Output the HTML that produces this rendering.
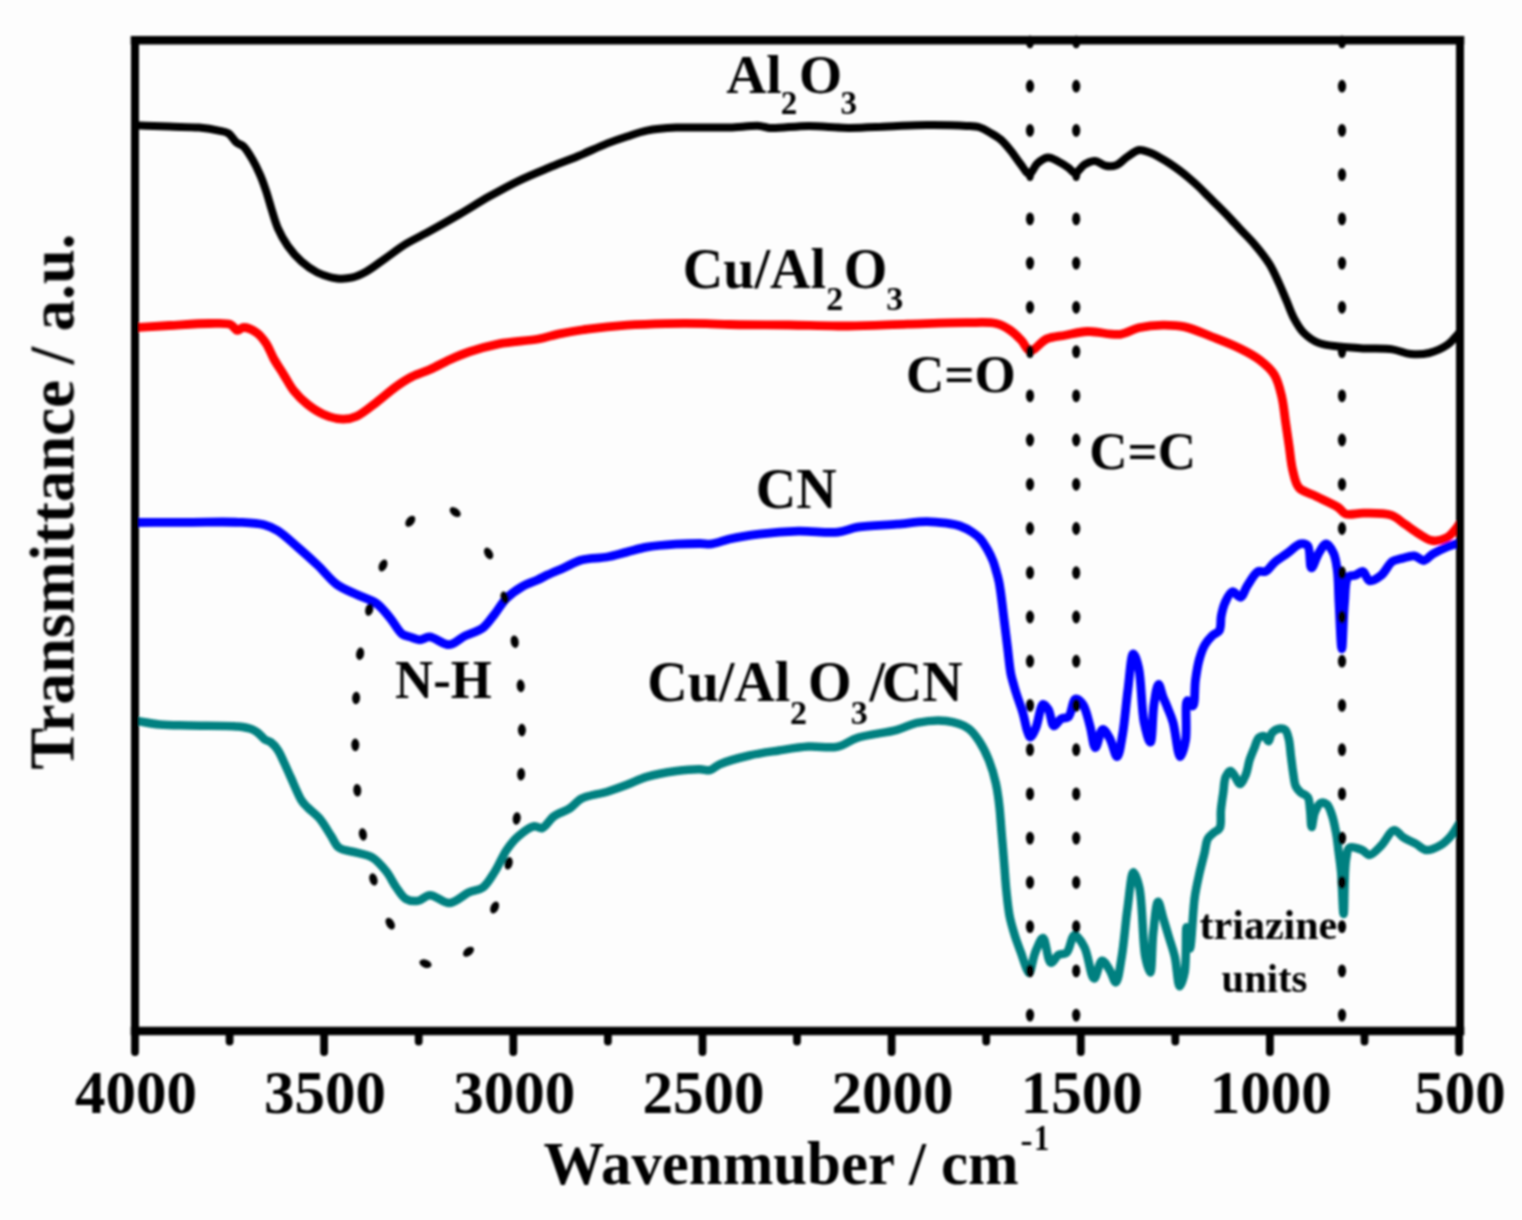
<!DOCTYPE html>
<html><head><meta charset="utf-8"><title>FTIR spectra</title>
<style>
html,body{margin:0;padding:0;background:#fdfdfd;overflow:hidden;}
svg{display:block;}
text{font-family:"Liberation Serif","Times New Roman",serif;font-weight:bold;fill:#000;}
</style></head><body>
<svg width="1522" height="1220" viewBox="0 0 1522 1220">
<defs><filter id="soft" filterUnits="userSpaceOnUse" x="0" y="0" width="1522" height="1220"><feGaussianBlur stdDeviation="1"/></filter></defs>
<rect width="1522" height="1220" fill="#fdfdfd"/>
<g filter="url(#soft)">

<path fill="none" stroke="#000" stroke-width="8" stroke-linejoin="round" stroke-linecap="butt" d="M135.0,125.2 C146.5,125.7 158.4,126.2 169.4,126.6 C179.6,127.0 190.2,126.8 199.0,127.6 C206.3,128.3 213.3,129.4 218.7,130.6 C222.6,131.5 225.7,131.7 228.6,133.5 C231.7,135.5 233.7,140.2 236.4,142.4 C238.6,144.2 241.1,144.3 243.3,146.3 C246.4,149.1 249.5,154.5 252.2,159.1 C255.1,164.0 257.8,169.6 260.1,174.9 C262.4,180.1 264.1,185.1 266.0,190.7 C268.1,196.9 269.9,204.0 271.9,210.4 C273.8,216.5 275.3,222.3 277.8,228.1 C280.5,234.2 283.8,240.3 287.7,245.9 C291.7,251.5 296.4,257.1 301.5,261.6 C306.3,265.9 311.5,269.7 317.3,272.5 C323.3,275.4 330.7,277.7 337.0,278.4 C342.5,279.0 347.7,278.6 352.7,277.4 C357.6,276.2 361.6,274.2 366.5,271.5 C372.7,268.1 379.7,262.3 386.3,257.7 C392.9,253.1 399.0,248.2 406.0,243.9 C413.5,239.3 421.6,235.7 430.0,231.1 C439.4,225.9 449.8,220.0 459.6,214.3 C469.5,208.5 479.2,202.2 489.1,196.6 C498.9,191.1 508.7,185.6 518.7,180.8 C528.5,176.1 538.4,172.1 548.3,168.0 C558.1,163.9 568.0,160.3 577.8,156.2 C587.7,152.1 598.5,146.9 607.4,143.4 C614.6,140.6 620.5,138.6 627.1,136.5 C633.6,134.4 639.5,132.1 646.8,130.6 C655.6,128.9 666.5,128.1 676.4,127.6 C686.3,127.1 696.7,127.6 706.0,127.6 C714.4,127.6 721.6,127.7 730.0,127.5 C739.4,127.2 752.4,125.4 759.6,125.9 C763.8,126.2 765.0,127.6 769.4,127.9 C778.1,128.6 795.7,125.9 808.8,125.9 C822.0,125.9 835.1,127.8 848.3,127.9 C861.4,128.0 874.6,127.0 887.7,126.5 C900.8,126.0 914.0,125.0 927.1,124.9 C940.2,124.8 956.8,125.2 966.5,125.9 C972.2,126.3 975.9,126.3 980.0,127.5 C983.7,128.6 986.7,130.7 990.0,132.6 C993.5,134.6 997.2,136.6 1000.5,139.4 C1004.2,142.6 1007.7,146.9 1011.0,151.0 C1014.4,155.1 1017.3,160.0 1020.5,164.0 C1023.4,167.6 1026.6,174.1 1029.4,174.0 C1032.2,173.9 1034.1,166.3 1037.3,163.5 C1040.3,160.8 1044.2,157.8 1047.8,157.5 C1051.2,157.2 1054.9,159.8 1058.3,161.5 C1061.9,163.3 1065.8,165.9 1068.8,168.0 C1071.2,169.7 1072.9,173.1 1075.2,173.0 C1078.1,172.9 1081.2,166.5 1084.6,164.5 C1087.8,162.6 1091.6,160.8 1095.1,161.0 C1098.6,161.2 1102.0,165.0 1105.6,165.7 C1109.0,166.4 1112.9,166.4 1116.2,165.2 C1119.9,163.9 1123.0,159.8 1126.7,157.3 C1130.6,154.7 1135.2,150.6 1139.3,150.0 C1142.9,149.5 1146.4,151.4 1149.8,152.6 C1153.2,153.9 1156.4,155.7 1159.7,157.5 C1163.0,159.3 1166.3,161.3 1169.5,163.4 C1172.8,165.6 1176.1,167.9 1179.3,170.3 C1182.6,172.8 1185.9,175.4 1189.2,178.2 C1192.5,181.0 1195.8,183.9 1199.0,187.0 C1202.3,190.2 1205.6,193.6 1208.9,196.9 C1212.2,200.2 1215.4,203.4 1218.7,206.7 C1222.0,210.0 1225.1,213.1 1228.5,216.6 C1232.2,220.5 1235.9,224.6 1240.0,229.0 C1244.6,233.9 1249.9,239.0 1254.7,244.6 C1259.8,250.6 1265.3,257.5 1269.5,264.2 C1273.4,270.6 1276.3,277.5 1279.3,283.9 C1282.0,289.8 1284.2,295.4 1286.7,301.1 C1289.1,306.8 1291.1,312.9 1294.0,318.3 C1296.8,323.5 1299.8,328.9 1303.9,333.0 C1308.0,337.1 1313.1,340.7 1318.6,342.9 C1324.5,345.3 1331.2,345.6 1338.3,346.5 C1346.5,347.5 1355.9,347.9 1364.8,348.4 C1373.9,348.9 1384.2,348.2 1392.4,349.4 C1399.2,350.4 1404.6,353.4 1410.8,354.0 C1416.9,354.6 1423.1,354.4 1429.1,353.0 C1435.4,351.5 1442.7,348.1 1447.5,344.8 C1451.4,342.1 1454.5,338.1 1456.7,335.6 C1458.1,334.0 1458.9,332.9 1460.0,331.5"/>
<path fill="none" stroke="#ff0000" stroke-width="8.8" stroke-linejoin="round" stroke-linecap="butt" d="M135.0,327.6 C146.5,326.9 157.5,326.2 169.4,325.5 C182.1,324.8 197.7,323.5 208.9,323.5 C217.2,323.5 225.5,322.5 230.5,324.5 C233.7,325.8 235.1,330.1 237.4,330.4 C239.4,330.6 240.9,327.6 243.3,327.5 C246.7,327.3 252.5,329.8 256.2,332.4 C260.1,335.0 263.1,339.0 266.0,343.2 C269.1,347.8 271.0,353.8 273.9,359.0 C276.9,364.3 280.5,369.5 283.8,374.8 C287.1,380.0 289.7,385.6 293.6,390.5 C297.6,395.5 302.4,400.3 307.4,404.3 C312.3,408.2 317.4,411.7 323.2,414.2 C329.2,416.8 336.9,419.0 342.9,419.1 C347.9,419.2 351.9,418.3 356.7,416.2 C363.0,413.5 369.9,407.3 376.4,402.4 C383.0,397.4 389.8,391.1 396.1,386.6 C401.5,382.7 406.3,379.5 411.9,376.7 C417.6,373.8 423.9,372.2 430.0,369.5 C436.5,366.6 443.1,362.7 449.7,359.7 C456.2,356.8 462.1,354.2 469.4,351.8 C478.2,348.9 488.4,346.0 499.0,343.9 C511.1,341.5 527.6,341.0 538.4,339.0 C546.1,337.6 550.8,335.6 558.1,334.1 C566.9,332.3 577.1,330.5 587.7,329.1 C599.9,327.5 614.0,326.1 627.1,325.2 C640.2,324.3 653.4,323.9 666.5,323.6 C679.7,323.3 694.5,323.4 706.0,323.6 C715.0,323.8 720.2,324.3 730.0,324.5 C745.3,324.9 769.4,324.8 789.1,325.0 C808.8,325.3 828.6,326.2 848.3,326.0 C868.0,325.8 887.7,324.7 907.4,324.1 C927.1,323.6 950.2,322.7 966.5,322.7 C978.1,322.7 988.2,321.6 996.1,323.5 C1001.7,324.8 1005.7,327.2 1009.9,330.0 C1014.2,332.8 1018.0,336.9 1021.5,340.5 C1024.7,343.8 1026.6,350.4 1030.2,350.8 C1034.6,351.4 1040.8,341.5 1046.8,338.9 C1052.5,336.4 1058.8,336.4 1065.2,335.2 C1072.2,333.9 1079.2,331.8 1087.3,331.5 C1097.2,331.1 1111.1,335.5 1120.4,334.3 C1127.5,333.4 1132.2,329.3 1138.8,327.8 C1146.2,326.1 1154.9,325.2 1162.7,325.1 C1170.2,325.0 1177.1,325.2 1184.8,326.9 C1193.6,328.8 1203.2,333.4 1212.4,337.0 C1221.6,340.6 1231.7,344.4 1240.0,348.5 C1247.3,352.1 1253.9,355.5 1259.7,360.0 C1265.3,364.3 1270.7,368.9 1274.4,374.8 C1278.3,381.1 1280.0,389.3 1281.8,396.9 C1283.7,404.8 1284.3,413.3 1285.5,421.5 C1286.7,429.7 1287.9,437.8 1289.1,446.0 C1290.3,454.2 1290.9,463.2 1292.8,470.6 C1294.4,476.9 1295.3,483.7 1299.0,487.8 C1302.5,491.7 1308.2,492.4 1313.7,495.2 C1320.8,498.8 1332.7,503.7 1338.3,507.5 C1341.6,509.7 1342.3,512.7 1345.5,513.8 C1349.9,515.4 1356.9,513.0 1363.5,513.1 C1371.7,513.3 1383.7,512.7 1391.1,515.2 C1396.8,517.1 1400.3,521.1 1404.9,524.2 C1409.5,527.3 1414.0,531.0 1418.7,533.8 C1423.2,536.5 1427.8,540.1 1432.5,540.7 C1437.0,541.3 1442.2,540.2 1446.3,538.0 C1450.6,535.7 1455.0,529.9 1457.3,526.9 C1458.6,525.2 1459.1,524.0 1460.0,522.5"/>
<path fill="none" stroke="#0000ff" stroke-width="8.8" stroke-linejoin="round" stroke-linecap="butt" d="M135.0,522.5 C153.0,522.4 171.5,522.3 189.1,522.3 C205.9,522.3 224.6,521.6 238.4,522.3 C248.3,522.8 256.9,523.0 264.0,524.8 C269.4,526.2 273.0,527.9 277.8,530.8 C284.1,534.7 291.1,541.6 297.6,547.2 C304.2,552.9 310.8,558.8 317.3,564.9 C324.0,571.2 330.0,579.5 337.0,584.6 C343.2,589.1 350.1,591.4 356.7,594.5 C363.2,597.6 370.8,599.3 376.4,603.3 C381.9,607.2 385.9,613.0 390.2,618.1 C394.4,623.2 398.0,630.9 402.0,633.9 C404.6,635.9 407.1,636.0 409.9,636.9 C413.0,637.9 416.4,639.8 419.7,639.8 C423.0,639.8 425.8,636.7 429.6,636.9 C435.1,637.2 443.2,645.1 449.3,644.7 C454.9,644.3 459.5,638.6 465.0,635.9 C470.7,633.1 477.8,631.7 482.8,628.0 C487.6,624.4 490.7,619.0 494.6,614.2 C498.6,609.2 501.8,603.0 506.4,598.4 C511.0,593.8 516.7,589.8 522.2,586.6 C527.3,583.6 533.4,581.9 538.0,579.7 C541.7,578.0 544.1,576.5 547.8,574.8 C552.4,572.6 558.2,570.3 563.6,567.9 C569.4,565.4 574.8,561.8 581.4,560.0 C589.0,557.9 599.1,558.4 607.0,557.0 C614.0,555.7 620.1,553.7 626.7,552.1 C633.3,550.5 639.1,548.5 646.4,547.2 C655.2,545.7 666.6,544.8 676.0,544.2 C684.4,543.7 693.4,543.5 700.0,543.5 C704.6,543.5 707.5,544.4 711.8,543.9 C717.2,543.3 722.9,540.5 729.6,539.0 C738.2,537.1 748.5,535.4 759.1,534.1 C771.3,532.6 785.4,531.4 798.6,531.1 C811.7,530.8 827.2,533.3 838.0,532.1 C845.8,531.2 849.9,528.5 857.7,527.2 C868.5,525.5 884.9,525.2 897.1,524.2 C907.7,523.3 917.8,521.6 926.7,521.6 C933.9,521.6 940.5,522.4 946.4,523.2 C951.4,523.9 955.7,524.5 960.0,526.0 C964.3,527.5 968.6,529.8 972.1,532.1 C975.1,534.1 977.6,535.8 980.0,538.5 C982.8,541.6 985.4,546.0 987.6,549.8 C989.7,553.5 991.5,557.2 993.0,561.0 C994.4,564.6 995.4,568.3 996.4,571.9 C997.4,575.3 998.3,578.5 999.0,582.0 C999.8,585.8 1000.2,589.2 1000.9,594.0 C1001.9,601.1 1003.1,611.7 1004.2,620.6 C1005.3,629.4 1006.4,638.3 1007.5,647.1 C1008.6,655.9 1009.5,666.8 1010.8,673.6 C1011.6,677.9 1012.6,680.6 1013.5,684.0 C1014.4,687.2 1015.1,689.8 1016.3,693.5 C1018.0,698.9 1021.1,706.9 1023.0,713.4 C1024.8,719.4 1025.8,726.8 1027.4,731.1 C1028.4,733.7 1029.3,737.0 1030.5,737.0 C1032.0,737.0 1034.2,731.6 1035.9,727.7 C1038.5,721.8 1040.2,705.0 1043.1,704.3 C1044.7,703.9 1046.9,707.2 1048.5,709.7 C1050.8,713.5 1051.3,725.3 1053.9,725.9 C1055.9,726.4 1058.6,720.2 1061.2,718.7 C1063.4,717.4 1066.3,718.7 1068.4,716.9 C1071.7,714.0 1072.5,699.8 1075.6,698.9 C1077.7,698.3 1080.7,701.4 1082.8,704.3 C1086.1,708.8 1087.9,718.7 1090.0,725.9 C1092.1,733.1 1093.2,747.5 1095.4,747.6 C1097.5,747.7 1099.8,729.9 1102.6,729.5 C1104.8,729.2 1107.6,734.8 1109.8,738.5 C1112.6,743.3 1115.0,756.7 1117.1,756.6 C1119.3,756.4 1120.9,743.5 1122.5,734.9 C1124.7,722.6 1126.0,704.0 1127.9,689.8 C1129.6,677.1 1130.9,654.1 1133.3,653.8 C1134.9,653.6 1137.2,661.7 1138.7,668.2 C1141.5,680.4 1141.3,708.8 1144.1,722.3 C1145.8,730.6 1148.8,742.3 1150.4,742.1 C1152.5,741.9 1152.3,714.9 1154.0,704.3 C1155.2,696.6 1156.8,684.5 1158.5,684.4 C1159.9,684.3 1161.5,693.1 1163.1,697.1 C1164.6,700.9 1166.1,704.0 1167.6,707.9 C1169.4,712.3 1171.3,716.4 1173.0,722.3 C1175.6,731.2 1177.7,756.5 1180.2,756.6 C1182.0,756.7 1184.4,747.0 1185.6,740.3 C1187.5,730.1 1184.4,701.9 1187.4,700.7 C1188.7,700.2 1191.5,706.5 1192.8,706.0 C1195.3,705.1 1194.3,688.1 1195.5,680.0 C1196.5,672.8 1197.5,665.9 1199.2,659.8 C1200.7,654.4 1202.3,649.3 1204.7,645.1 C1206.8,641.5 1209.5,638.4 1212.1,635.9 C1214.4,633.7 1217.8,633.1 1219.4,630.4 C1221.4,626.9 1220.3,620.4 1221.3,615.7 C1222.2,611.2 1223.2,606.8 1225.0,602.8 C1226.8,598.8 1229.5,592.3 1232.3,591.7 C1234.8,591.2 1238.2,597.8 1240.6,597.3 C1243.3,596.7 1244.4,590.1 1247.0,586.2 C1250.1,581.6 1254.3,573.4 1258.1,571.5 C1260.5,570.3 1263.0,572.5 1265.4,571.5 C1268.6,570.2 1271.1,565.2 1274.6,562.3 C1278.4,559.1 1283.2,556.2 1287.5,553.1 C1291.8,550.0 1296.6,544.6 1300.4,543.9 C1303.1,543.4 1305.9,543.8 1307.7,545.8 C1310.8,549.2 1309.3,567.5 1311.4,567.8 C1313.2,568.1 1316.1,557.3 1318.8,553.1 C1321.1,549.5 1323.7,543.9 1326.1,543.9 C1328.6,543.9 1331.7,549.3 1333.5,553.1 C1335.7,557.6 1336.3,563.2 1337.2,569.7 C1338.5,578.8 1338.3,590.9 1339.0,602.8 C1339.8,616.9 1340.9,648.8 1341.8,648.8 C1342.7,648.8 1343.2,615.9 1344.5,602.8 C1345.5,592.9 1344.8,580.7 1348.2,577.0 C1350.0,575.0 1353.2,576.1 1355.6,575.2 C1358.1,574.3 1360.7,571.0 1362.9,571.5 C1365.4,572.1 1366.5,579.9 1369.4,580.7 C1372.5,581.5 1377.7,578.0 1381.3,575.2 C1385.5,571.9 1388.4,564.1 1392.4,561.4 C1395.3,559.4 1398.3,559.5 1401.6,558.6 C1405.5,557.6 1410.6,555.4 1414.4,555.9 C1417.8,556.3 1420.6,560.7 1423.6,560.5 C1426.7,560.3 1429.3,556.1 1432.8,554.0 C1437.0,551.5 1442.9,548.6 1447.5,546.7 C1451.4,545.1 1456.3,543.9 1458.6,543.0 C1459.7,542.6 1460.2,542.3 1461.0,542.0"/>
<path fill="none" stroke="#008080" stroke-width="8.5" stroke-linejoin="round" stroke-linecap="butt" d="M135.0,720.6 C143.2,721.9 151.0,723.7 159.6,724.5 C169.0,725.4 178.0,725.2 189.1,725.5 C203.4,725.9 227.1,725.2 238.4,726.5 C244.5,727.2 248.7,728.0 252.2,729.4 C254.6,730.3 256.1,731.3 258.0,732.8 C260.2,734.5 262.3,737.6 264.6,739.3 C266.7,740.8 269.1,741.0 271.1,742.5 C273.5,744.3 275.7,746.8 277.7,749.8 C280.2,753.4 282.2,758.5 284.3,763.0 C286.5,767.7 288.3,772.0 290.8,777.4 C293.9,784.2 298.1,795.1 301.5,800.4 C303.5,803.6 305.0,804.8 307.4,807.3 C310.6,810.6 315.5,813.8 319.2,818.1 C323.5,823.1 327.6,830.6 331.1,835.9 C334.0,840.2 335.1,844.9 338.9,847.7 C343.3,850.9 351.0,850.9 356.7,852.6 C362.1,854.2 367.7,854.7 372.5,857.6 C377.7,860.7 382.3,866.4 386.3,871.4 C390.2,876.3 392.7,882.3 396.1,887.1 C399.3,891.5 402.1,896.8 406.0,899.0 C409.4,901.0 413.9,901.4 417.8,900.9 C421.9,900.3 425.3,895.3 429.9,895.2 C435.6,895.0 443.1,903.4 449.6,903.0 C456.3,902.6 463.2,894.9 469.3,892.2 C474.2,890.0 479.1,890.3 483.1,887.3 C487.8,883.8 491.2,877.3 494.9,871.5 C499.1,865.0 502.4,856.0 506.7,849.8 C510.4,844.5 514.0,839.9 518.6,836.0 C523.2,832.0 529.8,826.9 534.3,826.2 C537.3,825.7 539.5,828.9 542.2,828.1 C546.0,827.0 549.5,819.6 554.0,816.3 C558.6,812.9 565.1,811.5 569.8,808.4 C574.2,805.5 576.6,801.2 581.6,798.6 C588.2,795.2 599.3,794.2 607.3,791.7 C614.3,789.5 620.5,787.3 627.0,784.8 C633.6,782.3 639.4,779.1 646.7,776.9 C655.5,774.3 666.9,772.3 676.3,771.0 C684.6,769.9 693.8,769.2 700.0,769.3 C704.0,769.3 706.7,770.9 709.9,770.2 C713.3,769.4 715.4,766.2 719.7,764.3 C726.8,761.2 739.4,757.8 749.3,755.5 C759.1,753.2 768.9,752.0 778.8,750.5 C788.6,749.0 798.5,747.2 808.4,746.6 C818.2,746.0 829.3,748.5 838.0,746.6 C845.4,745.0 849.8,740.2 857.7,737.7 C868.4,734.3 886.3,732.8 897.1,729.8 C904.9,727.7 909.5,724.4 916.8,722.9 C925.6,721.1 937.4,719.8 946.4,721.0 C954.4,722.0 962.7,724.5 968.4,728.4 C973.4,731.8 976.5,737.0 979.8,742.1 C983.4,747.6 986.4,753.9 989.0,760.5 C991.8,767.6 994.2,775.8 995.9,783.5 C997.6,791.1 998.5,798.4 999.4,806.4 C1000.4,815.2 1000.9,824.8 1001.7,834.0 C1002.5,843.2 1003.3,852.3 1004.0,861.5 C1004.8,870.7 1005.3,879.9 1006.2,889.1 C1007.2,898.3 1008.0,908.1 1009.7,916.6 C1011.2,924.0 1013.4,930.9 1015.4,937.3 C1017.2,943.0 1019.3,948.0 1021.2,953.3 C1023.1,958.7 1025.2,966.0 1026.9,969.4 C1027.7,971.1 1028.4,973.1 1029.2,973.0 C1031.0,972.7 1032.6,958.9 1035.1,952.8 C1037.3,947.4 1040.6,937.9 1043.0,938.1 C1046.0,938.4 1047.4,961.9 1050.8,962.7 C1053.1,963.3 1055.8,956.4 1058.7,954.8 C1061.2,953.4 1064.3,954.7 1066.6,952.8 C1070.1,949.9 1071.3,935.5 1074.5,935.1 C1077.3,934.7 1081.5,941.7 1084.3,946.9 C1088.5,954.6 1090.7,978.2 1094.1,978.4 C1096.7,978.6 1099.0,961.1 1102.0,960.7 C1104.4,960.4 1107.6,966.9 1109.9,970.5 C1112.2,974.2 1114.1,982.6 1115.8,982.4 C1118.2,982.1 1120.0,966.8 1121.7,956.8 C1124.1,943.1 1125.4,922.6 1127.6,907.6 C1129.4,894.8 1131.0,872.4 1133.5,872.2 C1135.2,872.0 1137.8,880.7 1139.4,887.9 C1142.7,902.6 1142.4,942.1 1145.3,956.8 C1146.7,964.0 1149.0,972.6 1150.2,972.5 C1152.1,972.3 1151.8,945.5 1153.2,933.2 C1154.5,922.1 1156.1,901.8 1158.1,901.7 C1159.5,901.6 1161.3,911.9 1163.0,917.4 C1164.9,923.6 1166.9,930.5 1168.9,937.1 C1170.9,943.7 1173.1,949.5 1174.8,956.8 C1176.8,965.6 1177.7,986.1 1179.7,986.3 C1181.1,986.4 1183.4,978.5 1184.6,972.5 C1186.7,961.9 1185.4,927.4 1186.6,927.3 C1187.4,927.3 1188.7,948.4 1189.8,948.4 C1191.5,948.4 1192.7,910.8 1194.8,896.8 C1196.2,887.1 1198.0,879.9 1199.7,872.2 C1201.3,865.2 1203.2,858.5 1204.6,852.5 C1205.8,847.5 1205.9,842.2 1207.8,838.7 C1209.3,836.0 1211.8,834.5 1213.8,832.7 C1215.7,831.0 1218.4,830.5 1219.7,828.0 C1221.7,824.2 1220.3,816.0 1220.9,810.1 C1221.5,804.1 1222.5,798.0 1223.3,792.3 C1224.1,787.0 1224.0,780.6 1225.7,776.8 C1226.9,774.2 1228.8,770.9 1230.4,770.9 C1232.0,770.9 1233.7,774.7 1235.2,776.8 C1236.8,779.0 1238.2,784.0 1239.9,784.0 C1241.8,784.0 1244.3,778.1 1245.9,774.5 C1247.7,770.3 1248.1,764.7 1249.5,760.2 C1250.9,756.0 1252.6,752.1 1254.2,748.3 C1255.8,744.6 1256.7,739.4 1259.0,737.6 C1260.6,736.3 1263.3,735.8 1264.9,736.4 C1266.5,737.0 1267.4,741.3 1268.5,741.2 C1269.8,741.0 1270.1,734.9 1272.0,732.8 C1273.8,730.8 1276.8,729.0 1279.2,728.6 C1281.2,728.3 1283.6,728.5 1285.1,729.8 C1287.0,731.4 1287.8,735.2 1288.7,738.8 C1290.0,743.7 1290.2,750.7 1291.0,756.6 C1291.8,762.6 1292.5,769.2 1293.4,774.5 C1294.1,778.9 1294.3,783.2 1295.8,786.3 C1297.0,788.8 1298.7,790.5 1300.6,792.3 C1302.6,794.1 1306.1,794.6 1307.7,797.0 C1309.7,800.0 1309.5,805.4 1310.1,810.1 C1310.8,815.4 1310.8,826.9 1311.6,827.0 C1312.4,827.1 1313.1,816.7 1314.8,812.5 C1316.3,808.9 1318.4,804.0 1320.8,803.0 C1322.6,802.3 1325.1,802.9 1326.7,804.2 C1328.9,805.9 1330.1,809.8 1331.5,813.7 C1333.5,819.1 1335.1,827.3 1336.3,833.9 C1337.4,840.0 1337.8,845.6 1338.6,851.7 C1339.4,858.3 1340.4,864.1 1341.1,872.2 C1342.1,883.7 1342.8,914.0 1343.6,914.0 C1344.5,914.0 1344.0,871.5 1346.0,859.9 C1347.0,854.3 1347.0,849.2 1349.7,847.6 C1352.4,846.0 1358.5,848.6 1362.0,850.0 C1364.9,851.2 1366.7,855.1 1369.4,855.0 C1373.0,854.8 1377.8,849.0 1381.7,845.1 C1386.0,840.8 1389.9,830.8 1394.0,830.3 C1397.3,829.9 1400.2,835.5 1403.8,837.7 C1407.6,840.0 1412.3,841.8 1416.1,843.9 C1419.6,845.9 1422.2,849.6 1425.9,850.0 C1430.2,850.5 1436.5,847.5 1440.7,845.1 C1444.6,842.9 1447.6,839.8 1450.5,836.5 C1453.4,833.2 1456.1,828.3 1457.9,825.4 C1459.0,823.6 1459.6,822.5 1460.5,821.0"/>
<g fill="#000"><ellipse cx="1030" cy="41.9" rx="4.1" ry="6.4"/><ellipse cx="1030" cy="86.2" rx="4.1" ry="6.4"/><ellipse cx="1030" cy="130.4" rx="4.1" ry="6.4"/><ellipse cx="1030" cy="174.6" rx="4.1" ry="6.4"/><ellipse cx="1030" cy="218.9" rx="4.1" ry="6.4"/><ellipse cx="1030" cy="263.1" rx="4.1" ry="6.4"/><ellipse cx="1030" cy="307.3" rx="4.1" ry="6.4"/><ellipse cx="1030" cy="351.6" rx="4.1" ry="6.4"/><ellipse cx="1030" cy="395.8" rx="4.1" ry="6.4"/><ellipse cx="1030" cy="440.0" rx="4.1" ry="6.4"/><ellipse cx="1030" cy="484.3" rx="4.1" ry="6.4"/><ellipse cx="1030" cy="528.5" rx="4.1" ry="6.4"/><ellipse cx="1030" cy="572.7" rx="4.1" ry="6.4"/><ellipse cx="1030" cy="617.0" rx="4.1" ry="6.4"/><ellipse cx="1030" cy="661.2" rx="4.1" ry="6.4"/><ellipse cx="1030" cy="705.4" rx="4.1" ry="6.4"/><ellipse cx="1030" cy="749.7" rx="4.1" ry="6.4"/><ellipse cx="1030" cy="793.9" rx="4.1" ry="6.4"/><ellipse cx="1030" cy="838.1" rx="4.1" ry="6.4"/><ellipse cx="1030" cy="882.4" rx="4.1" ry="6.4"/><ellipse cx="1030" cy="926.6" rx="4.1" ry="6.4"/><ellipse cx="1030" cy="970.9" rx="4.1" ry="6.4"/><ellipse cx="1030" cy="1015.1" rx="4.1" ry="6.4"/><ellipse cx="1076.2" cy="41.9" rx="4.1" ry="6.4"/><ellipse cx="1076.2" cy="86.2" rx="4.1" ry="6.4"/><ellipse cx="1076.2" cy="130.4" rx="4.1" ry="6.4"/><ellipse cx="1076.2" cy="174.6" rx="4.1" ry="6.4"/><ellipse cx="1076.2" cy="218.9" rx="4.1" ry="6.4"/><ellipse cx="1076.2" cy="263.1" rx="4.1" ry="6.4"/><ellipse cx="1076.2" cy="307.3" rx="4.1" ry="6.4"/><ellipse cx="1076.2" cy="351.6" rx="4.1" ry="6.4"/><ellipse cx="1076.2" cy="395.8" rx="4.1" ry="6.4"/><ellipse cx="1076.2" cy="440.0" rx="4.1" ry="6.4"/><ellipse cx="1076.2" cy="484.3" rx="4.1" ry="6.4"/><ellipse cx="1076.2" cy="528.5" rx="4.1" ry="6.4"/><ellipse cx="1076.2" cy="572.7" rx="4.1" ry="6.4"/><ellipse cx="1076.2" cy="617.0" rx="4.1" ry="6.4"/><ellipse cx="1076.2" cy="661.2" rx="4.1" ry="6.4"/><ellipse cx="1076.2" cy="705.4" rx="4.1" ry="6.4"/><ellipse cx="1076.2" cy="749.7" rx="4.1" ry="6.4"/><ellipse cx="1076.2" cy="793.9" rx="4.1" ry="6.4"/><ellipse cx="1076.2" cy="838.1" rx="4.1" ry="6.4"/><ellipse cx="1076.2" cy="882.4" rx="4.1" ry="6.4"/><ellipse cx="1076.2" cy="926.6" rx="4.1" ry="6.4"/><ellipse cx="1076.2" cy="970.9" rx="4.1" ry="6.4"/><ellipse cx="1076.2" cy="1015.1" rx="4.1" ry="6.4"/><ellipse cx="1342" cy="41.9" rx="4.1" ry="6.4"/><ellipse cx="1342" cy="86.2" rx="4.1" ry="6.4"/><ellipse cx="1342" cy="130.4" rx="4.1" ry="6.4"/><ellipse cx="1342" cy="174.6" rx="4.1" ry="6.4"/><ellipse cx="1342" cy="218.9" rx="4.1" ry="6.4"/><ellipse cx="1342" cy="263.1" rx="4.1" ry="6.4"/><ellipse cx="1342" cy="307.3" rx="4.1" ry="6.4"/><ellipse cx="1342" cy="351.6" rx="4.1" ry="6.4"/><ellipse cx="1342" cy="395.8" rx="4.1" ry="6.4"/><ellipse cx="1342" cy="440.0" rx="4.1" ry="6.4"/><ellipse cx="1342" cy="484.3" rx="4.1" ry="6.4"/><ellipse cx="1342" cy="528.5" rx="4.1" ry="6.4"/><ellipse cx="1342" cy="572.7" rx="4.1" ry="6.4"/><ellipse cx="1342" cy="617.0" rx="4.1" ry="6.4"/><ellipse cx="1342" cy="661.2" rx="4.1" ry="6.4"/><ellipse cx="1342" cy="705.4" rx="4.1" ry="6.4"/><ellipse cx="1342" cy="749.7" rx="4.1" ry="6.4"/><ellipse cx="1342" cy="793.9" rx="4.1" ry="6.4"/><ellipse cx="1342" cy="838.1" rx="4.1" ry="6.4"/><ellipse cx="1342" cy="882.4" rx="4.1" ry="6.4"/><ellipse cx="1342" cy="926.6" rx="4.1" ry="6.4"/><ellipse cx="1342" cy="970.9" rx="4.1" ry="6.4"/><ellipse cx="1342" cy="1015.1" rx="4.1" ry="6.4"/></g>
<g fill="#000"><ellipse cx="410.3" cy="521.3" rx="6.3" ry="4.0" transform="rotate(-52.0 410.3 521.3)"/><ellipse cx="455.2" cy="512.1" rx="6.3" ry="4.0" transform="rotate(38.0 455.2 512.1)"/><ellipse cx="488.6" cy="553.4" rx="6.3" ry="4.0" transform="rotate(60.0 488.6 553.4)"/><ellipse cx="504.6" cy="597.6" rx="6.3" ry="4.0" transform="rotate(73.5 504.6 597.6)"/><ellipse cx="514.7" cy="641.7" rx="6.3" ry="4.0" transform="rotate(79.7 514.7 641.7)"/><ellipse cx="520.7" cy="685.9" rx="6.3" ry="4.0" transform="rotate(85.3 520.7 685.9)"/><ellipse cx="521.9" cy="730.1" rx="6.3" ry="4.0" transform="rotate(89.7 521.9 730.1)"/><ellipse cx="521.1" cy="774.2" rx="6.3" ry="4.0" transform="rotate(93.4 521.1 774.2)"/><ellipse cx="516.7" cy="818.4" rx="6.3" ry="4.0" transform="rotate(98.0 516.7 818.4)"/><ellipse cx="508.6" cy="863.3" rx="6.3" ry="4.0" transform="rotate(103.9 508.6 863.3)"/><ellipse cx="494.6" cy="907.5" rx="6.3" ry="4.0" transform="rotate(114.4 494.6 907.5)"/><ellipse cx="468.5" cy="951.7" rx="6.3" ry="4.0" transform="rotate(140.9 468.5 951.7)"/><ellipse cx="425.5" cy="963.7" rx="6.3" ry="4.0" transform="rotate(-160.3 425.5 963.7)"/><ellipse cx="390.2" cy="923.6" rx="6.3" ry="4.0" transform="rotate(-121.7 390.2 923.6)"/><ellipse cx="373.4" cy="879.4" rx="6.3" ry="4.0" transform="rotate(-107.0 373.4 879.4)"/><ellipse cx="362.9" cy="834.4" rx="6.3" ry="4.0" transform="rotate(-100.2 362.9 834.4)"/><ellipse cx="357.3" cy="790.3" rx="6.3" ry="4.0" transform="rotate(-94.9 357.3 790.3)"/><ellipse cx="355.3" cy="744.9" rx="6.3" ry="4.0" transform="rotate(-90.7 355.3 744.9)"/><ellipse cx="356.1" cy="698" rx="6.3" ry="4.0" transform="rotate(-87.0 356.1 698)"/><ellipse cx="360.1" cy="653.8" rx="6.3" ry="4.0" transform="rotate(-81.5 360.1 653.8)"/><ellipse cx="369.3" cy="609.6" rx="6.3" ry="4.0" transform="rotate(-75.5 369.3 609.6)"/><ellipse cx="383" cy="565.5" rx="6.3" ry="4.0" transform="rotate(-65.1 383 565.5)"/></g>
<g stroke="#000" fill="none" stroke-linecap="square"><line x1="135" y1="40.2" x2="1460" y2="40.2" stroke-width="8.6"/><line x1="135" y1="1031" x2="1460" y2="1031" stroke-width="8.6"/><line x1="135" y1="40.2" x2="135" y2="1031" stroke-width="8.0"/><line x1="1460" y1="40.2" x2="1460" y2="1031" stroke-width="8.0"/></g>
<g stroke="#000" stroke-width="7.8" stroke-linecap="round"><line x1="135.0" y1="1031" x2="135.0" y2="1052"/><line x1="229.6" y1="1031" x2="229.6" y2="1041.5"/><line x1="324.1" y1="1031" x2="324.1" y2="1052"/><line x1="418.7" y1="1031" x2="418.7" y2="1041.5"/><line x1="513.3" y1="1031" x2="513.3" y2="1052"/><line x1="607.9" y1="1031" x2="607.9" y2="1041.5"/><line x1="702.5" y1="1031" x2="702.5" y2="1052"/><line x1="797.0" y1="1031" x2="797.0" y2="1041.5"/><line x1="891.6" y1="1031" x2="891.6" y2="1052"/><line x1="986.2" y1="1031" x2="986.2" y2="1041.5"/><line x1="1080.8" y1="1031" x2="1080.8" y2="1052"/><line x1="1175.3" y1="1031" x2="1175.3" y2="1041.5"/><line x1="1269.9" y1="1031" x2="1269.9" y2="1052"/><line x1="1364.5" y1="1031" x2="1364.5" y2="1041.5"/><line x1="1459.1" y1="1031" x2="1459.1" y2="1052"/></g>
<text x="135.9" y="1113" font-size="61" text-anchor="middle">4000</text><text x="325.0" y="1113" font-size="61" text-anchor="middle">3500</text><text x="514.2" y="1113" font-size="61" text-anchor="middle">3000</text><text x="703.4" y="1113" font-size="61" text-anchor="middle">2500</text><text x="892.5" y="1113" font-size="61" text-anchor="middle">2000</text><text x="1081.7" y="1113" font-size="61" text-anchor="middle">1500</text><text x="1270.8" y="1113" font-size="61" text-anchor="middle">1000</text><text x="1460.0" y="1113" font-size="61" text-anchor="middle">500</text>
<text x="726.2" y="92.5" font-size="55.5">Al</text>
<text x="799" y="92.5" font-size="55.5">O</text>
<text x="780.7" y="113.5" font-size="33">2</text>
<text x="840.5" y="113.6" font-size="33">3</text>
<text x="682.8" y="288.3" font-size="56">Cu/Al</text>
<text x="826.3" y="310" font-size="34">2</text>
<text x="843.8" y="288.3" font-size="56">O</text>
<text x="886.2" y="310" font-size="34">3</text>
<text x="755.7" y="507.7" font-size="56">CN</text>
<text x="647.2" y="701.4" font-size="56">Cu/Al</text>
<text x="790.1" y="723.5" font-size="34">2</text>
<text x="808.1" y="701.4" font-size="56">O</text>
<text x="850.8" y="723.5" font-size="34">3</text>
<text x="869.6" y="701.4" font-size="56">/</text>
<text x="881.8" y="701.4" font-size="56">CN</text>
<text transform="translate(395.1,698.1) scale(0.95,1)" font-size="55.5">N-H</text>
<text x="906" y="391.6" font-size="53">C=O</text>
<text x="1089.2" y="469.3" font-size="53">C=C</text>
<text x="1199.6" y="939.4" font-size="42">triazine</text>
<text x="1221.6" y="991.5" font-size="40.6">units</text>
<text x="543.6" y="1183.5" font-size="60.8">Wavenmuber / cm</text>
<text x="1020.6" y="1152" font-size="36">-</text>
<text transform="translate(1034,1150.4) scale(0.85,1)" font-size="36">1</text>
<text transform="translate(73.5,769.6) rotate(-90)" font-size="62.8">Transmittance / a.u.</text>
</g></svg></body></html>
